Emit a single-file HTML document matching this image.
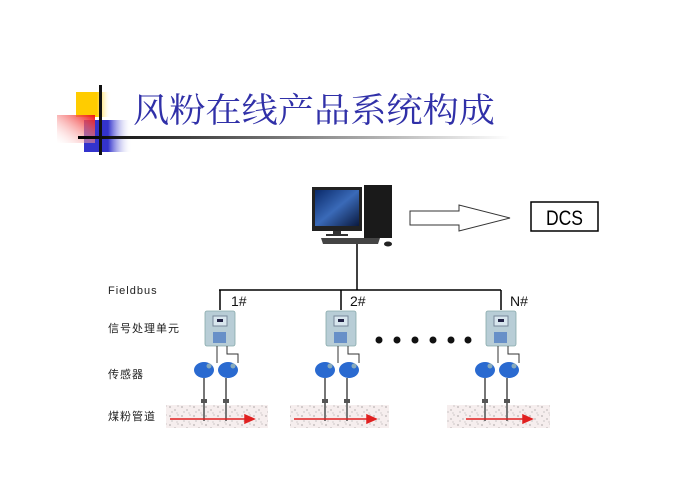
<!DOCTYPE html>
<html><head><meta charset="utf-8"><style>
html,body{margin:0;padding:0;background:#fff;}
svg{display:block;}
</style></head><body>
<svg width="696" height="490" viewBox="0 0 696 490" xmlns="http://www.w3.org/2000/svg">
<defs>
<linearGradient id="yel" x1="0" x2="1"><stop offset="0" stop-color="#ffcc00"/><stop offset="0.6" stop-color="#ffcc00"/><stop offset="1" stop-color="#fff" stop-opacity="0"/></linearGradient>
<linearGradient id="red" x1="1" y1="0" x2="0" y2="1"><stop offset="0" stop-color="#ee1111"/><stop offset="1" stop-color="#fff" stop-opacity="0.2"/></linearGradient>
<linearGradient id="blu" x1="0" x2="1"><stop offset="0" stop-color="#3333cc"/><stop offset="0.5" stop-color="#3333cc"/><stop offset="1" stop-color="#fff" stop-opacity="0"/></linearGradient>
<linearGradient id="hl" x1="0" x2="1"><stop offset="0" stop-color="#000"/><stop offset="1" stop-color="#fff"/></linearGradient>
<linearGradient id="scr" x1="0" y1="0" x2="1" y2="1"><stop offset="0" stop-color="#0a2a6a"/><stop offset="0.5" stop-color="#3a6ab8"/><stop offset="1" stop-color="#0a1a40"/></linearGradient>
<pattern id="spk" width="12" height="9" patternUnits="userSpaceOnUse">
<rect width="12" height="9" fill="#f6eeee"/>
<circle cx="2" cy="2" r="0.5" fill="#333"/><circle cx="7" cy="5" r="0.5" fill="#555"/><circle cx="10" cy="1" r="0.4" fill="#444"/><circle cx="4" cy="7" r="0.4" fill="#333"/><circle cx="9" cy="8" r="0.4" fill="#666"/>
</pattern>
<g id="grp">
<line x1="15" y1="0" x2="15" y2="20" stroke="#000" stroke-width="1.5"/>
<rect x="0" y="21" width="30" height="35" rx="2" fill="#b8cdd6" stroke="#8aa" stroke-width="0.8"/>
<rect x="8" y="26" width="14" height="10" fill="#d8e6ee" stroke="#789"/>
<rect x="12" y="29" width="6" height="3" fill="#224"/>
<rect x="8" y="42" width="13" height="11" fill="#6890c8"/>
<line x1="12" y1="56" x2="12" y2="73" stroke="#333"/>
<polyline points="22,56 22,64 33,64 33,73" fill="none" stroke="#333"/>
<ellipse cx="-1" cy="80" rx="10" ry="8" fill="#2a6ad0"/>
<ellipse cx="23" cy="80" rx="10" ry="8" fill="#2a6ad0"/>
<circle cx="4" cy="76" r="2.5" fill="#8ab"/><circle cx="28" cy="76" r="2.5" fill="#8ab"/>
<rect x="-2" y="88" width="2" height="43" fill="#777"/>
<rect x="20" y="88" width="2" height="43" fill="#777"/>
<rect x="-4" y="109" width="6" height="4" fill="#555"/>
<rect x="18" y="109" width="6" height="4" fill="#555"/>
</g>
</defs>

<rect x="76" y="92" width="35" height="25" fill="url(#yel)"/>
<rect x="84" y="120" width="48" height="32" fill="url(#blu)"/>
<rect x="57" y="115" width="38" height="28" fill="url(#red)"/>
<rect x="99" y="85" width="3" height="70" fill="#111"/>
<rect x="78" y="136" width="432" height="3" fill="url(#hl)"/>
<text x="133" y="122" textLength="362" lengthAdjust="spacingAndGlyphs" font-family="'Liberation Serif','Noto Serif CJK SC',serif" font-size="34" fill="#3030a8">风粉在线产品系统构成</text>

<rect x="312" y="187" width="50" height="44" fill="#222"/>
<rect x="315" y="190" width="44" height="36" fill="url(#scr)"/>
<rect x="333" y="231" width="8" height="4" fill="#333"/>
<rect x="326" y="234" width="22" height="2" fill="#333"/>
<rect x="364" y="185" width="28" height="53" fill="#1a1a1a"/>
<polygon points="321,238 380,238 378,244 323,244" fill="#444"/>
<ellipse cx="388" cy="244" rx="4" ry="2.5" fill="#222"/>
<line x1="357" y1="244" x2="357" y2="290" stroke="#000" stroke-width="1.5"/>

<polygon points="410,211 459,211 459,205 510,218 459,231 459,225 410,225" fill="#fff" stroke="#333" stroke-width="1"/>
<rect x="531" y="202" width="67" height="29" fill="#fff" stroke="#000" stroke-width="1.5"/>
<text x="546" y="225" textLength="37" lengthAdjust="spacingAndGlyphs" font-family="'Liberation Sans',sans-serif" font-size="21" fill="#000">DCS</text>

<line x1="219" y1="290" x2="501" y2="290" stroke="#000" stroke-width="1.5"/>

<g font-family="'Liberation Sans','Noto Sans CJK SC',sans-serif" font-size="11" fill="#222" letter-spacing="1">
<text x="108" y="294">Fieldbus</text>
<text x="108" y="332">信号处理单元</text>
<text x="108" y="378">传感器</text>
<text x="108" y="420">煤粉管道</text>
</g>
<g font-family="'Liberation Sans',sans-serif" font-size="14" fill="#111">
<text x="231" y="306">1#</text>
<text x="350" y="306">2#</text>
<text x="510" y="306">N#</text>
</g>

<rect x="166" y="405" width="102" height="23" fill="url(#spk)"/>
<rect x="290" y="405" width="99" height="23" fill="url(#spk)"/>
<rect x="447" y="405" width="103" height="23" fill="url(#spk)"/>

<use href="#grp" x="205" y="290"/>
<use href="#grp" x="326" y="290"/>
<use href="#grp" x="486" y="290"/>

<g fill="#e02020" stroke="#e02020" stroke-width="1.5">
<line x1="170" y1="419" x2="246" y2="419"/><polygon points="245,415 254,419 245,423"/>
<line x1="294" y1="419" x2="368" y2="419"/><polygon points="367,415 376,419 367,423"/>
<line x1="466" y1="419" x2="524" y2="419"/><polygon points="523,415 532,419 523,423"/>
</g>

<g fill="#111">
<circle cx="379" cy="340" r="3.5"/><circle cx="397" cy="340" r="3.5"/><circle cx="415" cy="340" r="3.5"/>
<circle cx="433" cy="340" r="3.5"/><circle cx="451" cy="340" r="3.5"/><circle cx="468" cy="340" r="3.5"/>
</g>
</svg>
</body></html>
